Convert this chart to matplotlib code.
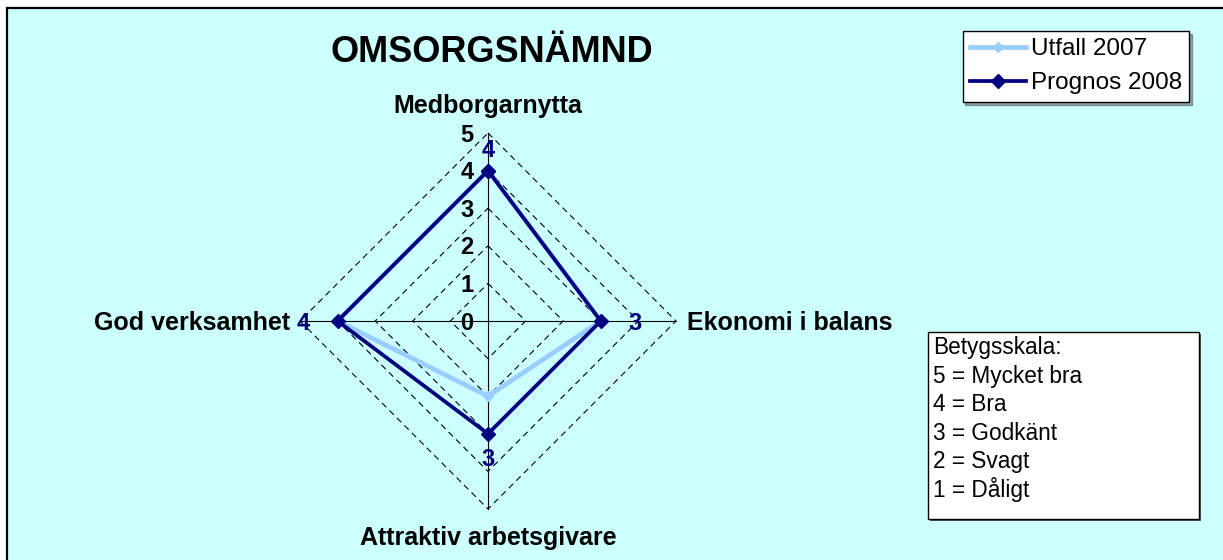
import numpy as np
import matplotlib.pyplot as plt
from matplotlib.patches import Rectangle

plt.rcParams['font.family'] = ['Liberation Sans', 'DejaVu Sans']

# Data
kategorier = ["Medborgarnytta", "Ekonomi i balans", "Attraktiv arbetsgivare", "God verksamhet"]
utfall_2007 = [4, 3, 2, 4]
prognos_2008 = [4, 3, 3, 4]
nivaer = [0, 1, 2, 3, 4, 5]
betygsskala = ["5 = Mycket bra", "4 = Bra", "3 = Godkänt", "2 = Svagt", "1 = Dåligt"]

W, H = 1223, 560
fig = plt.figure(figsize=(W / 100, H / 100), dpi=100, facecolor='white')

# bakgrund med ram
fig.patches.append(Rectangle((6.5 / W, -0.1), 1.2, 1.1 - 7.5 / H, transform=fig.transFigure,
                             facecolor='#CCFFFF', edgecolor='black', lw=1.6, zorder=-1))

# polärdiagram
cx, cy, R = 488, 321, 188
ax = fig.add_axes([(cx - R) / W, (H - cy - R) / H, 2 * R / W, 2 * R / H], projection='polar')
ax.set_theta_offset(np.pi / 2)
ax.set_theta_direction(-1)
ax.set_ylim(0, nivaer[-1])
ax.set_axis_off()

vinklar = np.arange(len(kategorier)) * 2 * np.pi / len(kategorier)
stang = np.append(vinklar, vinklar[0])

# rutnät
for r in nivaer[1:]:
    ax.plot(stang, [r] * len(stang), color='black', lw=0.8, ls=(0, (5.5, 4)), clip_on=False, zorder=1)
for v in vinklar:
    ax.plot([v, v], [0, nivaer[-1]], color='black', lw=0.8, clip_on=False, zorder=1)

# serier
ax.plot(stang, utfall_2007 + utfall_2007[:1], color='#99CCFF', lw=3.4, marker='D', ms=5.2,
        label='Utfall 2007', clip_on=False, zorder=3)
ax.plot(stang, prognos_2008 + prognos_2008[:1], color='#000080', lw=2.7, marker='D', ms=7.6,
        label='Prognos 2008', clip_on=False, zorder=4)

# dataetiketter
etikett_forskjut = [(0, 22), (34, 0), (0, -24), (-34, 0)]
for v, val, (dx, dy) in zip(vinklar, prognos_2008, etikett_forskjut):
    ax.annotate(str(val), (v, val), xytext=(dx, dy - 8.5), textcoords='offset pixels',
                ha='center', va='baseline', fontsize=17, fontweight='bold', color='#000080',
                annotation_clip=False, zorder=5)

# skaletiketter
for r in nivaer:
    ax.annotate(str(r), (0, r), xytext=(-21, -8.5), textcoords='offset pixels',
                ha='center', va='baseline', fontsize=17, fontweight='bold', color='black',
                annotation_clip=False, zorder=5)

# kategorietiketter
kat_stil = [((0, 20), 'center'), ((11, -9), 'left'), ((0, -36), 'center'), ((-10, -9), 'right')]
for v, namn, (off, ha) in zip(vinklar, kategorier, kat_stil):
    ax.annotate(namn, (v, nivaer[-1]), xytext=off, textcoords='offset pixels',
                ha=ha, va='baseline', fontsize=18, fontweight='bold', color='black',
                annotation_clip=False)

# titel
fig.text(492 / W, 1 - 62 / H, "OMSORGSNÄMND", ha='center', va='baseline',
         fontsize=26, fontweight='bold')

# förklaring
leg = fig.legend(loc='upper right', bbox_to_anchor=(1189 / W, 1 - 31 / H), fontsize=17.5,
                 frameon=True, fancybox=False, shadow=True, framealpha=1, edgecolor='black',
                 borderpad=0.3, handlelength=2.3, handletextpad=0.2, labelspacing=0.5,
                 borderaxespad=0)
leg.get_frame().set_linewidth(1)

# betygsskala
bx0, by0, bx1, by1 = 928, 332, 1199, 519
fig.patches.append(Rectangle(((bx0 + 2) / W, 1 - (by1 + 2) / H), (bx1 - bx0) / W, (by1 - by0) / H,
                             transform=fig.transFigure, facecolor='#555555', edgecolor='none', zorder=2))
fig.patches.append(Rectangle((bx0 / W, 1 - by1 / H), (bx1 - bx0) / W, (by1 - by0) / H,
                             transform=fig.transFigure, facecolor='white', edgecolor='black', lw=1, zorder=3))
rader = ["Betygsskala:"] + betygsskala
for i, rad in enumerate(rader):
    fig.text((bx0 + 5) / W, 1 - (354 + i * 28.6) / H, rad,
             ha='left', va='baseline', fontsize=16.3, zorder=4)

fig.savefig('out.png', dpi=100, facecolor=fig.get_facecolor())
